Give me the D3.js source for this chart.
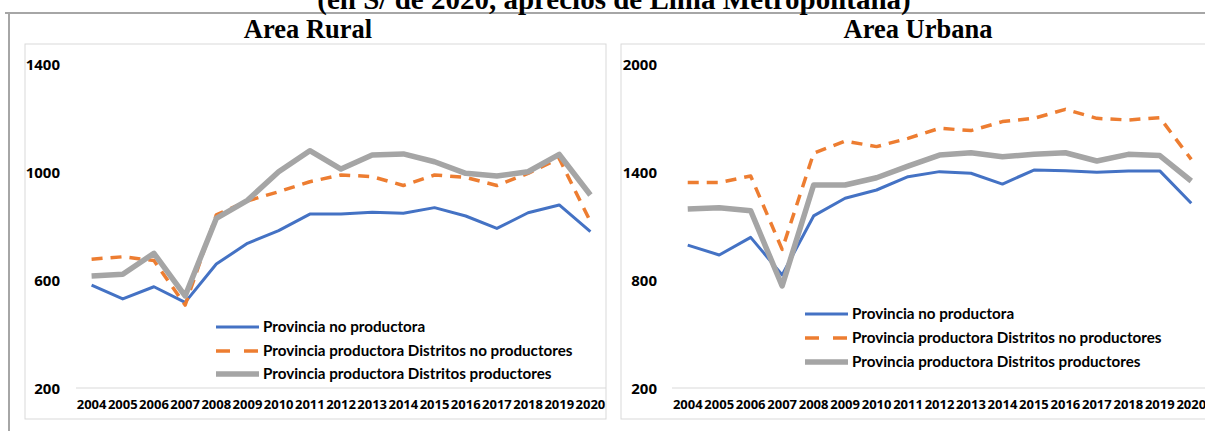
<!DOCTYPE html>
<html><head><meta charset="utf-8">
<script src="https://cdn.jsdelivr.net/npm/d3@7"></script>
<style>body{margin:0;background:#fff}svg{display:block}</style>
</head><body><svg id="c" width="1205" height="431"></svg>
<script>
const years = ["2004","2005","2006","2007","2008","2009","2010","2011","2012","2013","2014","2015","2016","2017","2018","2019","2020"];
const seriesNames = ["Provincia no productora","Provincia productora Distritos no productores","Provincia productora Distritos productores"];
const ruralNoProductora = [581,530,575,517,659,736,783,844,844,851,847,868,837,791,849,878,779];
const ruralDistNoProd   = [677,686,672,507,841,893,927,964,989,983,950,989,980,950,995,1050,816];
const ruralDistProd     = [615,621,699,541,828,895,1001,1079,1011,1063,1067,1038,995,985,1001,1065,915];
const urbanaNoProductora = [994,939,1037,828,1156,1254,1300,1374,1402,1393,1333,1411,1407,1398,1406,1406,1226];
const urbanaDistNoProd   = [1341,1341,1378,970,1504,1572,1541,1587,1643,1630,1680,1698,1748,1698,1689,1702,1470];
const urbanaDistProd     = [1194,1202,1185,767,1328,1328,1368,1433,1494,1507,1485,1498,1507,1461,1498,1491,1350];
const ruralTicks = [200,600,1000,1400];
const urbanaTicks = [200,800,1400,2000];
const mainTitle = "(en S/ de 2020, aprecios de Lima Metropolitana)";

const svg = d3.select("#c");
const styles = [
  {color:"#4472C4", width:3, dash:null},
  {color:"#ED7D31", width:3.5, dash:"11,8"},
  {color:"#A5A5A5", width:5.5, dash:null}
];

// outer frame
svg.append("path").attr("d","M5,13 H1205 M9,13 V431").attr("fill","none").attr("stroke","#a6a6a6").attr("stroke-width",2);

svg.append("text").attr("x",614).attr("y",9).attr("text-anchor","middle")
  .attr("font-family","'Liberation Serif','Times New Roman',serif").attr("font-weight","bold").attr("font-size",29)
  .text(mainTitle);

function panel(cfg){
  const g = svg.append("g");
  g.append("rect").attr("x",cfg.px).attr("y",44).attr("width",cfg.pw).attr("height",375)
    .attr("fill","#fff").attr("stroke","#d9d9d9").attr("stroke-width",1);
  g.append("text").attr("x",cfg.titleX).attr("y",38).attr("text-anchor","middle")
    .attr("font-family","'Liberation Serif','Times New Roman',serif").attr("font-weight","bold").attr("font-size",26.5)
    .text(cfg.title);
  const x = d3.scaleBand().domain(years).range(cfg.xr).padding(0);
  const y = d3.scaleLinear().domain([cfg.ticks[0], cfg.ticks[cfg.ticks.length-1]]).range([388,64]);
  // baseline
  g.append("line").attr("x1",cfg.xr[0]).attr("x2",cfg.xr[1]).attr("y1",y(cfg.ticks[0])).attr("y2",y(cfg.ticks[0]))
    .attr("stroke","#d9d9d9").attr("stroke-width",1);
  // y axis
  const ya = d3.axisLeft(y).tickValues(cfg.ticks).tickSize(0).tickPadding(0).tickFormat(d3.format("d"));
  const yg = g.append("g").attr("transform",`translate(${cfg.yLabX},0)`).call(ya);
  yg.select(".domain").remove();
  yg.selectAll("text").attr("font-family","'Open Sans', sans-serif").attr("font-weight","bold").attr("font-size",15).attr("fill","#000").attr("dy","0.35em");
  // x axis
  const xa = d3.axisBottom(x).tickSize(0).tickPadding(0);
  const xg = g.append("g").attr("transform","translate(0,400)").call(xa);
  xg.select(".domain").remove();
  xg.selectAll("text").attr("font-family","'Open Sans', sans-serif").attr("font-weight","bold").attr("font-size",13).attr("fill","#000").attr("dy","0.71em");
  const line = d3.line().x((d,i)=>x(years[i])+x.bandwidth()/2).y(d=>y(d));
  cfg.data.forEach((s,i)=>{
    const p = g.append("path").datum(s).attr("d",line).attr("fill","none")
      .attr("stroke",styles[i].color).attr("stroke-width",styles[i].width).attr("stroke-linejoin","round");
    if(styles[i].dash) p.attr("stroke-dasharray",styles[i].dash);
  });
  // legend
  seriesNames.forEach((n,i)=>{
    const ly = cfg.legY[i];
    const l = g.append("line").attr("x1",cfg.legX).attr("x2",cfg.legX+43).attr("y1",ly).attr("y2",ly)
      .attr("stroke",styles[i].color).attr("stroke-width",styles[i].width);
    if(styles[i].dash) l.attr("stroke-dasharray","14,14");
    g.append("text").attr("x",cfg.legX+47).attr("y",ly).attr("dy","0.35em")
      .attr("font-family","Lato, sans-serif").attr("font-weight","bold").attr("font-size",15.2).attr("fill","#000").text(n);
  });
}

panel({px:25,pw:581,title:"Area Rural",titleX:308,xr:[76,606],ticks:ruralTicks,yLabX:60,
  data:[ruralNoProductora,ruralDistNoProd,ruralDistProd],legX:216,legY:[327,351,374]});
panel({px:621,pw:600,title:"Area Urbana",titleX:918,xr:[672,1207],ticks:urbanaTicks,yLabX:657,
  data:[urbanaNoProductora,urbanaDistNoProd,urbanaDistProd],legX:805,legY:[314,338,362]});
</script></body></html>
